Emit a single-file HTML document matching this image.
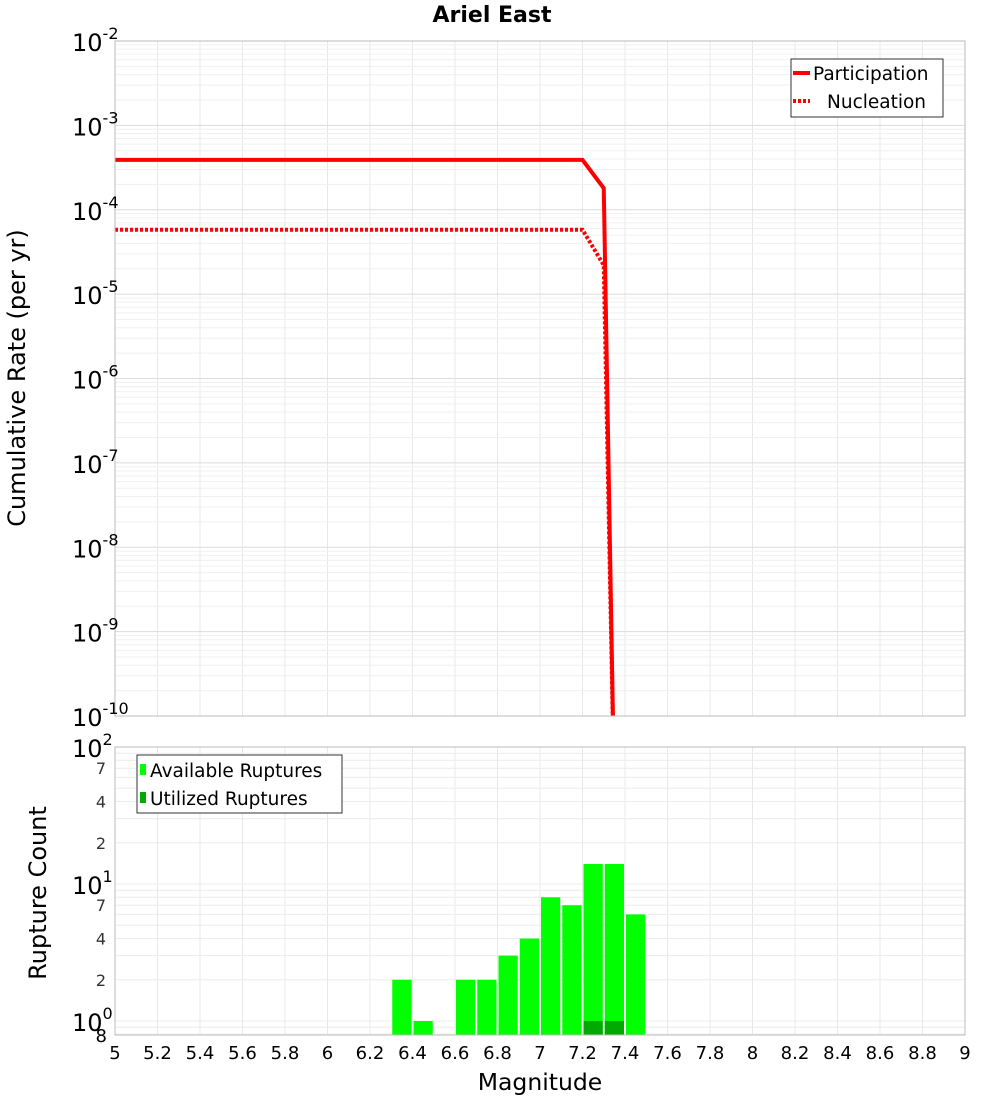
<!DOCTYPE html>
<html><head><meta charset="utf-8"><style>
body{margin:0;background:#fff;width:1000px;height:1100px;overflow:hidden}
svg{font-family:"DejaVu Sans","Liberation Sans",sans-serif}
</style></head><body>
<svg id="c" width="1000" height="1100">
<text x="492" y="22" font-size="22" font-weight="bold" text-anchor="middle">Ariel East</text>
<text transform="translate(25,378) rotate(-90)" font-size="24" text-anchor="middle">Cumulative Rate (per yr)</text>
<text transform="translate(46,893) rotate(-90)" font-size="24" text-anchor="middle">Rupture Count</text>
<text x="540" y="1090" font-size="23.5" text-anchor="middle">Magnitude</text>
<defs>
<clipPath id="ct"><rect x="115" y="41" width="850" height="675"/></clipPath>
<clipPath id="cb"><rect x="115" y="747" width="850" height="288"/></clipPath>
</defs>
<g id="grid"></g>
<g id="marks"></g>
<g id="axes"></g>
<g>
<rect x="791" y="59" width="152" height="58" fill="#fff" stroke="#333"/>
<line x1="793" y1="73" x2="810" y2="73" stroke="#f00" stroke-width="4"/>
<text x="813" y="80" font-size="18.5">Participation</text>
<line x1="793" y1="101" x2="810" y2="101" stroke="#f00" stroke-width="4" stroke-dasharray="3,2"/>
<text x="827" y="108" font-size="18.5">Nucleation</text>
</g>
<g>
<rect x="137" y="755" width="205" height="58" fill="#fff" stroke="#333"/>
<rect x="140" y="764" width="6" height="11" fill="#00ff00"/>
<text x="150" y="777" font-size="18.5">Available Ruptures</text>
<rect x="140" y="792" width="6" height="11" fill="#00aa00"/>
<text x="150" y="805" font-size="18.5">Utilized Ruptures</text>
</g>
</svg>
<script>
const partMags=[5.0,7.2,7.3,7.35];
const partRates=[3.9e-4,3.9e-4,1.8e-4,1e-11];
const nuclMags=[5.0,7.2,7.3,7.35];
const nuclRates=[5.8e-5,5.8e-5,2.2e-5,1e-11];
const binCenters=[6.35,6.45,6.65,6.75,6.85,6.95,7.05,7.15,7.25,7.35,7.45];
const availCounts=[2,1,2,2,3,4,8,7,14,14,6];
const utilCenters=[7.25,7.35];
const utilCounts=[1,1];
const xTicks=[5,5.2,5.4,5.6,5.8,6,6.2,6.4,6.6,6.8,7,7.2,7.4,7.6,7.8,8,8.2,8.4,8.6,8.8,9];
const topExps=[-2,-3,-4,-5,-6,-7,-8,-9,-10];

const NS='http://www.w3.org/2000/svg';
const X=m=>115+(m-5)/4*850;
const YT=v=>41+(-2-Math.log10(v))/8*675;
const YB=v=>1021-Math.log10(v)*137;
function mk(p,t,a){const e=document.createElementNS(NS,t);for(const k in a)e.setAttribute(k,a[k]);p.appendChild(e);return e;}
const G=document.getElementById('grid'),M=document.getElementById('marks'),A=document.getElementById('axes');
for(const t of xTicks){const x=X(t);
 let l=mk(G,'line',{x1:x,x2:x,y1:41,y2:716,stroke:'#e8e8e8'});
 l=mk(G,'line',{x1:x,x2:x,y1:747,y2:1035,stroke:'#e8e8e8'});}
for(let e=-10;e<-2;e++)for(let k=1;k<10;k++){const y=YT(k*Math.pow(10,e));
 const l=mk(G,'line',{x1:115,x2:965,y1:y,y2:y,stroke:k==1?'#dcdcdc':'#f0f0f0'});}
for(let e=-1;e<2;e++)for(let k=1;k<10;k++){const v=k*Math.pow(10,e);if(v<0.8)continue;const y=YB(v);
 const l=mk(G,'line',{x1:115,x2:965,y1:y,y2:y,stroke:'#ececec'});}
const gb=mk(M,'g',{'clip-path':'url(#cb)'});
binCenters.forEach((c,i)=>{const x0=X(c-0.05),x1=X(c+0.05),y=YB(availCounts[i]);
 const r=mk(gb,'rect',{x:x0+1,y:y,width:x1-x0-2,height:1035-y,fill:'#00ff00'});
 });
utilCenters.forEach((c,i)=>{const x0=X(c-0.05),x1=X(c+0.05),y=YB(utilCounts[i]);
 const r=mk(gb,'rect',{x:x0+1,y:y,width:x1-x0-2,height:1035-y,fill:'#00aa00'});
 });
const gt=mk(M,'g',{'clip-path':'url(#ct)'});
let p=mk(gt,'polyline',{points:partMags.map((m,i)=>X(m)+','+YT(partRates[i])).join(' '),fill:'none',stroke:'#f00','stroke-width':4});

p=mk(gt,'polyline',{points:nuclMags.map((m,i)=>X(m)+','+YT(nuclRates[i])).join(' '),fill:'none',stroke:'#f00','stroke-width':4,'stroke-dasharray':'3,2'});

mk(A,'rect',{x:115,y:41,width:850,height:675,fill:'none',stroke:'#bbb'});
mk(A,'rect',{x:115,y:747,width:850,height:288,fill:'none',stroke:'#bbb'});
for(const t of xTicks){const e=mk(A,'text',{x:X(t),y:1059,'font-size':18,'text-anchor':'middle'});e.textContent=String(t);
 }
for(const ex of topExps){const y=YT(Math.pow(10,ex));const e=mk(A,'text',{x:72,y:y+10,'font-size':24});
 e.textContent='10';const s=mk(e,'tspan',{dy:-12,'font-size':16});s.textContent=String(ex);
 }
const bl=[[100,'10','2'],[10,'10','1'],[1,'10','0']];
for(const b of bl){const y=YB(b[0]);const e=mk(A,'text',{x:72,y:y+10,'font-size':24});e.textContent=b[1];
 const s=mk(e,'tspan',{dy:-12,'font-size':16});s.textContent=b[2];
 }
for(const v of [70,40,20,7,4,2]){const e=mk(A,'text',{x:106,y:YB(v)+6,'font-size':16,'text-anchor':'end',fill:'#333'});e.textContent=String(v).charAt(0);
 }
const e8=mk(A,'text',{x:107,y:1042,'font-size':18,'text-anchor':'end'});e8.textContent='8';

</script>
</body></html>
